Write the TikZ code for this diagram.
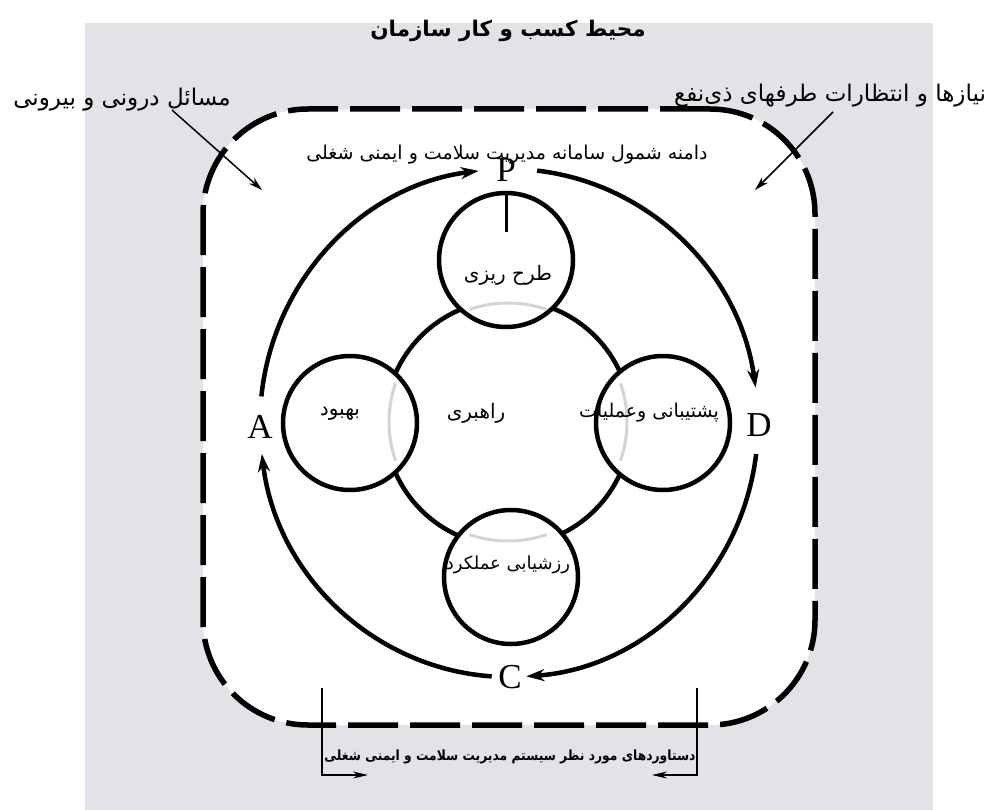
\documentclass[tikz,border=0pt]{standalone}
\usepackage{fontspec}
\setmainfont{Liberation Serif}
\newfontfamily\fa[Script=Arabic]{DejaVu Sans}
\TeXXeTstate=1
\usetikzlibrary{arrows.meta}
\definecolor{bgray}{RGB}{225,227,230}
\definecolor{faint}{RGB}{212,212,212}
\newcommand{\rtl}[1]{\beginR #1\endR}
\tikzset{
  ring/.style={circle, draw, line width=4.5pt, fill=white, inner sep=0pt},
  cyc/.style={line width=4.5pt, -{Stealth[length=18pt,width=12pt]}},
  ptr/.style={line width=1.5pt, -{Stealth[length=14pt,width=8pt]}},
  thinline/.style={line width=1.6pt},
  faintarc/.style={faint, line width=3pt},
  lbl/.style={font=\fa\fontsize{23}{25}\selectfont, inner sep=0pt},
  inlbl/.style={font=\fa\fontsize{20}{22}\selectfont, inner sep=0pt},
  letter/.style={font=\fontsize{35}{37}\selectfont, inner sep=0pt},
}
\begin{document}
\begin{tikzpicture}[x=1pt,y=-1pt]
\useasboundingbox (0,0) rectangle (992,810);
\fill[white] (0,0) rectangle (992,810);
\fill[bgray] (85,23) rectangle (933,810);

% title
\node[font=\fa\bfseries\fontsize{21.5}{24}\selectfont, inner sep=0pt] (title) at (508,31) {\rtl{محیط کسب و کار سازمان}};

% scope (dashed rounded rectangle)
\node[draw, fill=white, line width=5.5pt, dash pattern=on 50pt off 12pt, rounded corners=105pt,
      minimum width=612pt, minimum height=616pt, inner sep=0pt] (scope) at (509,417) {};
\node[font=\fa\fontsize{19}{21}\selectfont, inner sep=0pt] (scopetxt) at (507,155) {\rtl{دامنه شمول سامانه مدیریت سلامت و ایمنی شغلی}};

% outer labels and pointers
\node[lbl] (issues) at (122,100) {\rtl{مسائل درونی و بیرونی}};
\node[lbl] (needs) at (830,96) {\rtl{نیازها و انتظارات طرفهای ذی‌نفع}};
\coordinate (issuesS) at (172,110);
\coordinate (issuesE) at (262,190);
\coordinate (needsS) at (833,112);
\coordinate (needsE) at (755,190);
\draw[ptr] (issuesS) -- (issuesE);
\draw[ptr] (needsS) -- (needsE);

% PDCA cycle
\coordinate (O) at (509,423);
\node[letter] (P) at (506,170) {P};
\node[letter] (D) at (759,425) {D};
\node[letter] (C) at (510,677) {C};
\node[letter] (A) at (260,427) {A};
\draw[cyc] (O) ++(-174:249 and 254) arc[start angle=-174, end angle=-97, x radius=249, y radius=254];
\draw[cyc] (O) ++(-83.5:249 and 254) arc[start angle=-83.5, end angle=-8, x radius=249, y radius=254];
\draw[cyc] (O) ++(7:249 and 254) arc[start angle=7, end angle=86, x radius=249, y radius=254];
\draw[cyc] (O) ++(94:249 and 254) arc[start angle=94, end angle=173, x radius=249, y radius=254];

% circles
\node[ring, minimum size=246pt] (lead) at (508,423) {};
\node[ring, minimum size=134pt] (plan) at (506,260) {};
\node[ring, minimum size=134pt] (impr) at (350,423) {};
\node[ring, minimum size=134pt] (oper) at (663,423) {};
\node[ring, minimum size=134pt] (eval) at (511,577) {};

% faint hidden parts of the central circle
\coordinate (G) at (508,422);
\draw[faintarc] (G) ++(-71:119) arc[start angle=-71, end angle=-109, radius=119];
\draw[faintarc] (G) ++(161:119) arc[start angle=161, end angle=199, radius=119];
\draw[faintarc] (G) ++(19:119) arc[start angle=19, end angle=-19, radius=119];
\draw[faintarc] (G) ++(71:119) arc[start angle=71, end angle=109, radius=119];

\node[inlbl] (plantxt) at (508,275) {\rtl{طرح ریزی}};
\node[inlbl] (leadtxt) at (476,413) {\rtl{راهبری}};
\node[inlbl] (imprtxt) at (340,414) {\rtl{بهبود}};
\node[inlbl, font=\fa\fontsize{19}{21}\selectfont] (opertxt) at (649,413) {\rtl{پشتیبانی وعملیات}};
\node[inlbl, font=\fa\fontsize{18}{20}\selectfont] (evaltxt) at (508,565) {\rtl{رزشیابی عملکرد}};

\coordinate (tick) at (506,232);
\draw[line width=3pt] (plan.north) -- (tick);

% outcomes
\coordinate (l1) at (322,688);
\coordinate (l2) at (322,775);
\coordinate (l3) at (368,775);
\coordinate (r1) at (697,688);
\coordinate (r2) at (697,775);
\coordinate (r3) at (652,775);
\draw[thinline, -{Stealth[length=15pt,width=7pt]}] (l1) -- (l2) -- (l3);
\draw[thinline, -{Stealth[length=15pt,width=7pt]}] (r1) -- (r2) -- (r3);
\node[font=\fa\bfseries\fontsize{14}{16}\selectfont, inner sep=0pt, transform shape, xscale=0.88] (outtxt) at (510,757) {\rtl{دستاوردهای مورد نظر سیستم مدیریت سلامت و ایمنی شغلی}};
\end{tikzpicture}
\end{document}
